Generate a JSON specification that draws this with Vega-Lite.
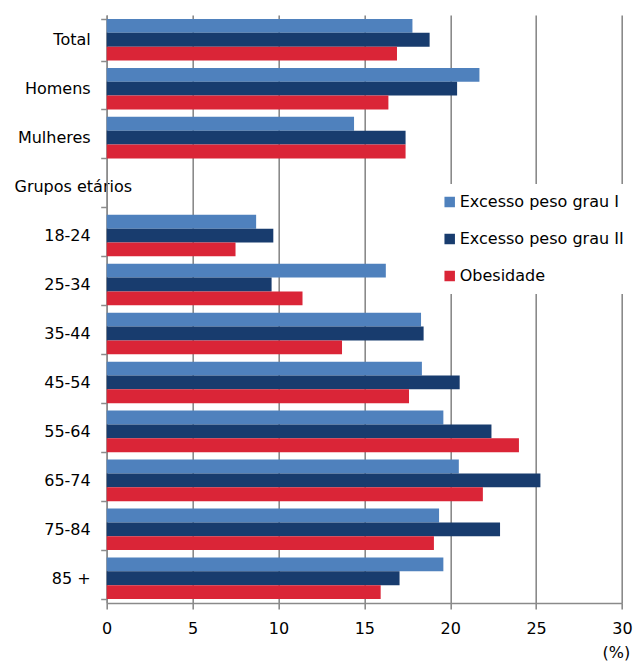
{
  "$schema": "https://vega.github.io/schema/vega-lite/v6.json",
  "autosize": "none",
  "padding": {"left": 106.7, "top": 15, "right": 12, "bottom": 59},
  "width": 515.3,
  "height": 588,
  "background": "white",
  "config": {
    "font": "DejaVu Sans",
    "view": {"stroke": null}
  },
  "data": {
    "values": [
      {"cat": "Total", "serie": "Excesso peso grau I", "value": 17.8},
      {"cat": "Total", "serie": "Excesso peso grau II", "value": 18.8},
      {"cat": "Total", "serie": "Obesidade", "value": 16.9},
      {"cat": "Homens", "serie": "Excesso peso grau I", "value": 21.7},
      {"cat": "Homens", "serie": "Excesso peso grau II", "value": 20.4},
      {"cat": "Homens", "serie": "Obesidade", "value": 16.4},
      {"cat": "Mulheres", "serie": "Excesso peso grau I", "value": 14.4},
      {"cat": "Mulheres", "serie": "Excesso peso grau II", "value": 17.4},
      {"cat": "Mulheres", "serie": "Obesidade", "value": 17.4},
      {"cat": "18-24", "serie": "Excesso peso grau I", "value": 8.7},
      {"cat": "18-24", "serie": "Excesso peso grau II", "value": 9.7},
      {"cat": "18-24", "serie": "Obesidade", "value": 7.5},
      {"cat": "25-34", "serie": "Excesso peso grau I", "value": 16.25},
      {"cat": "25-34", "serie": "Excesso peso grau II", "value": 9.6},
      {"cat": "25-34", "serie": "Obesidade", "value": 11.4},
      {"cat": "35-44", "serie": "Excesso peso grau I", "value": 18.3},
      {"cat": "35-44", "serie": "Excesso peso grau II", "value": 18.45},
      {"cat": "35-44", "serie": "Obesidade", "value": 13.7},
      {"cat": "45-54", "serie": "Excesso peso grau I", "value": 18.35},
      {"cat": "45-54", "serie": "Excesso peso grau II", "value": 20.55},
      {"cat": "45-54", "serie": "Obesidade", "value": 17.6},
      {"cat": "55-64", "serie": "Excesso peso grau I", "value": 19.6},
      {"cat": "55-64", "serie": "Excesso peso grau II", "value": 22.4},
      {"cat": "55-64", "serie": "Obesidade", "value": 24.0},
      {"cat": "65-74", "serie": "Excesso peso grau I", "value": 20.5},
      {"cat": "65-74", "serie": "Excesso peso grau II", "value": 25.25},
      {"cat": "65-74", "serie": "Obesidade", "value": 21.9},
      {"cat": "75-84", "serie": "Excesso peso grau I", "value": 19.35},
      {"cat": "75-84", "serie": "Excesso peso grau II", "value": 22.9},
      {"cat": "75-84", "serie": "Obesidade", "value": 19.05},
      {"cat": "85 +", "serie": "Excesso peso grau I", "value": 19.6},
      {"cat": "85 +", "serie": "Excesso peso grau II", "value": 17.05},
      {"cat": "85 +", "serie": "Obesidade", "value": 15.95}
    ]
  },
  "mark": {"type": "bar"},
  "encoding": {
    "y": {
      "field": "cat",
      "type": "nominal",
      "scale": {
        "domain": ["Total", "Homens", "Mulheres", "Grupos etários", "18-24", "25-34", "35-44", "45-54", "55-64", "65-74", "75-84", "85 +"],
        "paddingInner": 0.15,
        "paddingOuter": 0.08
      },
      "axis": {
        "title": null,
        "tickBand": "extent",
        "domainColor": "#8c8c8c",
        "domainWidth": 1.5,
        "tickColor": "#8c8c8c",
        "tickWidth": 1.5,
        "tickSize": 6,
        "labelFontSize": 16,
        "labelColor": "#000000",
        "labelAlign": {"condition": {"test": "datum.value == 'Grupos etários'", "value": "left"}, "value": "right"},
        "labelPadding": {"condition": {"test": "datum.value == 'Grupos etários'", "value": 86.7}, "value": 10.5},
        "grid": false
      }
    },
    "yOffset": {
      "field": "serie",
      "type": "nominal",
      "sort": ["Excesso peso grau I", "Excesso peso grau II", "Obesidade"],
      "scale": {"paddingInner": 0, "paddingOuter": 0}
    },
    "x": {
      "field": "value",
      "type": "quantitative",
      "scale": {"domain": [0, 30], "nice": false, "zero": true},
      "axis": {
        "values": [0, 5, 10, 15, 20, 25, 30],
        "title": "(%)",
        "titleFontSize": 16,
        "titleFontWeight": "normal",
        "titleColor": "#000000",
        "titleAlign": "right",
        "titleAnchor": "end",
        "titleX": 523,
        "titleY": 41,
        "titleBaseline": "top",
        "grid": true,
        "gridColor": "#8a8a8a",
        "gridWidth": 1.6,
        "domainColor": "#8a8a8a",
        "domainWidth": 1.6,
        "tickColor": "#8a8a8a",
        "tickWidth": 1.6,
        "tickSize": 6,
        "labelFontSize": 16,
        "labelColor": "#000000",
        "labelPadding": 11,
        "labelFlush": false
      }
    },
    "color": {
      "field": "serie",
      "type": "nominal",
      "scale": {
        "domain": ["Excesso peso grau I", "Excesso peso grau II", "Obesidade"],
        "range": ["#4F81BD", "#183C6E", "#DA2537"]
      },
      "legend": {
        "title": null,
        "orient": "none",
        "legendX": 325,
        "legendY": 169,
        "fillColor": "white",
        "padding": 10,
        "symbolType": "square",
        "symbolSize": 110,
        "symbolStrokeWidth": 0,
        "labelFontSize": 16,
        "labelColor": "#000000",
        "labelOffset": 2,
        "rowPadding": 21,
        "labelLimit": 300
      }
    }
  }
}
